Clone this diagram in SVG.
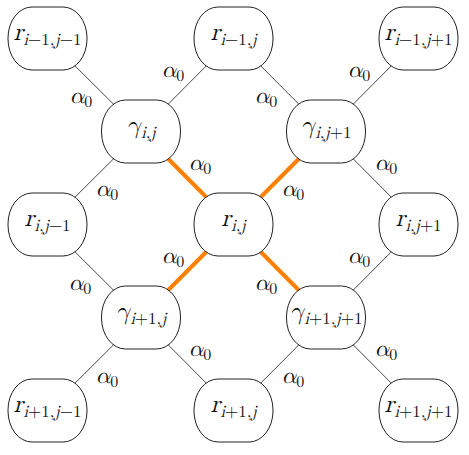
<svg xmlns="http://www.w3.org/2000/svg" width="469" height="455" viewBox="0 0 469 455">
<style>
.node rect{fill:#fff;stroke:#222;stroke-width:1}
.e{stroke:#333;stroke-width:0.9;fill:none}
.o{stroke:#ff8000;stroke-width:4;fill:none}
text{font-family:"Latin Modern Math","DejaVu Serif","Liberation Serif",serif;fill:#111}
.lab{font-size:25px;text-anchor:middle}
.it{font-style:italic}
.sub{font-size:17px}
.al{font-size:23px;text-anchor:middle}
.al .sub{font-size:16px}
</style>
<g id="connectors">
<line class="e" x1="47.5" y1="38.5" x2="141" y2="131.5"/>
<line class="e" x1="233.5" y1="38.5" x2="141" y2="131.5"/>
<line class="e" x1="233.5" y1="38.5" x2="326" y2="131.5"/>
<line class="e" x1="418.5" y1="38.5" x2="326" y2="131.5"/>
<line class="e" x1="141" y1="131.5" x2="47.5" y2="224.5"/>
<line class="o" x1="141" y1="131.5" x2="233.5" y2="224.5"/>
<line class="o" x1="326" y1="131.5" x2="233.5" y2="224.5"/>
<line class="e" x1="326" y1="131.5" x2="418.5" y2="224.5"/>
<line class="e" x1="47.5" y1="224.5" x2="141" y2="317.5"/>
<line class="o" x1="233.5" y1="224.5" x2="141" y2="317.5"/>
<line class="o" x1="233.5" y1="224.5" x2="326" y2="317.5"/>
<line class="e" x1="418.5" y1="224.5" x2="326" y2="317.5"/>
<line class="e" x1="141" y1="317.5" x2="47.5" y2="410.5"/>
<line class="e" x1="141" y1="317.5" x2="233.5" y2="410.5"/>
<line class="e" x1="326" y1="317.5" x2="233.5" y2="410.5"/>
<line class="e" x1="326" y1="317.5" x2="418.5" y2="410.5"/>
<g id="edge-labels">
<text class="al" x="81" y="103"><tspan class="it">α</tspan><tspan class="sub" dy="4">0</tspan></text>
<text class="al" x="173" y="77"><tspan class="it">α</tspan><tspan class="sub" dy="4">0</tspan></text>
<text class="al" x="266" y="103"><tspan class="it">α</tspan><tspan class="sub" dy="4">0</tspan></text>
<text class="al" x="359" y="77"><tspan class="it">α</tspan><tspan class="sub" dy="4">0</tspan></text>
<text class="al" x="200" y="170"><tspan class="it">α</tspan><tspan class="sub" dy="4">0</tspan></text>
<text class="al" x="107" y="196"><tspan class="it">α</tspan><tspan class="sub" dy="4">0</tspan></text>
<text class="al" x="293" y="196"><tspan class="it">α</tspan><tspan class="sub" dy="4">0</tspan></text>
<text class="al" x="386" y="170"><tspan class="it">α</tspan><tspan class="sub" dy="4">0</tspan></text>
<text class="al" x="80" y="290"><tspan class="it">α</tspan><tspan class="sub" dy="4">0</tspan></text>
<text class="al" x="173" y="263"><tspan class="it">α</tspan><tspan class="sub" dy="4">0</tspan></text>
<text class="al" x="266" y="290"><tspan class="it">α</tspan><tspan class="sub" dy="4">0</tspan></text>
<text class="al" x="359" y="263"><tspan class="it">α</tspan><tspan class="sub" dy="4">0</tspan></text>
<text class="al" x="107" y="383"><tspan class="it">α</tspan><tspan class="sub" dy="4">0</tspan></text>
<text class="al" x="200" y="356"><tspan class="it">α</tspan><tspan class="sub" dy="4">0</tspan></text>
<text class="al" x="293" y="383"><tspan class="it">α</tspan><tspan class="sub" dy="4">0</tspan></text>
<text class="al" x="386" y="356"><tspan class="it">α</tspan><tspan class="sub" dy="4">0</tspan></text>
</g>
</g>
<g id="r_im1_jm1" class="node"><rect x="8" y="7" width="79" height="63" rx="24" ry="31"/><text class="lab" x="47.5" y="40"><tspan class="it">r</tspan><tspan class="sub" dy="5"><tspan class="it">i</tspan>−1,<tspan class="it">j</tspan>−1</tspan></text></g>
<g id="r_im1_j" class="node"><rect x="194" y="7" width="79" height="63" rx="24" ry="31"/><text class="lab" x="233.5" y="40"><tspan class="it">r</tspan><tspan class="sub" dy="5"><tspan class="it">i</tspan>−1,<tspan class="it">j</tspan></tspan></text></g>
<g id="r_im1_jp1" class="node"><rect x="379" y="7" width="79" height="63" rx="24" ry="31"/><text class="lab" x="418.5" y="40"><tspan class="it">r</tspan><tspan class="sub" dy="5"><tspan class="it">i</tspan>−1,<tspan class="it">j</tspan>+1</tspan></text></g>
<g id="g_i_j" class="node"><rect x="101.5" y="100" width="79" height="63" rx="24" ry="31"/><text class="lab" x="141" y="133"><tspan class="it">γ</tspan><tspan class="sub" dy="5"><tspan class="it">i</tspan>,<tspan class="it">j</tspan></tspan></text></g>
<g id="g_i_jp1" class="node"><rect x="286.5" y="100" width="79" height="63" rx="24" ry="31"/><text class="lab" x="326" y="133"><tspan class="it">γ</tspan><tspan class="sub" dy="5"><tspan class="it">i</tspan>,<tspan class="it">j</tspan>+1</tspan></text></g>
<g id="r_i_jm1" class="node"><rect x="8" y="193" width="79" height="63" rx="24" ry="31"/><text class="lab" x="47.5" y="226"><tspan class="it">r</tspan><tspan class="sub" dy="5"><tspan class="it">i</tspan>,<tspan class="it">j</tspan>−1</tspan></text></g>
<g id="r_i_j" class="node"><rect x="194" y="193" width="79" height="63" rx="24" ry="31"/><text class="lab" x="233.5" y="226"><tspan class="it">r</tspan><tspan class="sub" dy="5"><tspan class="it">i</tspan>,<tspan class="it">j</tspan></tspan></text></g>
<g id="r_i_jp1" class="node"><rect x="379" y="193" width="79" height="63" rx="24" ry="31"/><text class="lab" x="418.5" y="226"><tspan class="it">r</tspan><tspan class="sub" dy="5"><tspan class="it">i</tspan>,<tspan class="it">j</tspan>+1</tspan></text></g>
<g id="g_ip1_j" class="node"><rect x="101.5" y="286" width="79" height="63" rx="24" ry="31"/><text class="lab" x="141" y="319"><tspan class="it">γ</tspan><tspan class="sub" dy="5"><tspan class="it">i</tspan>+1,<tspan class="it">j</tspan></tspan></text></g>
<g id="g_ip1_jp1" class="node"><rect x="286.5" y="286" width="79" height="63" rx="24" ry="31"/><text class="lab" x="326" y="319"><tspan class="it">γ</tspan><tspan class="sub" dy="5"><tspan class="it">i</tspan>+1,<tspan class="it">j</tspan>+1</tspan></text></g>
<g id="r_ip1_jm1" class="node"><rect x="8" y="379" width="79" height="63" rx="24" ry="31"/><text class="lab" x="47.5" y="412"><tspan class="it">r</tspan><tspan class="sub" dy="5"><tspan class="it">i</tspan>+1,<tspan class="it">j</tspan>−1</tspan></text></g>
<g id="r_ip1_j" class="node"><rect x="194" y="379" width="79" height="63" rx="24" ry="31"/><text class="lab" x="233.5" y="412"><tspan class="it">r</tspan><tspan class="sub" dy="5"><tspan class="it">i</tspan>+1,<tspan class="it">j</tspan></tspan></text></g>
<g id="r_ip1_jp1" class="node"><rect x="379" y="379" width="79" height="63" rx="24" ry="31"/><text class="lab" x="418.5" y="412"><tspan class="it">r</tspan><tspan class="sub" dy="5"><tspan class="it">i</tspan>+1,<tspan class="it">j</tspan>+1</tspan></text></g>
</svg>
